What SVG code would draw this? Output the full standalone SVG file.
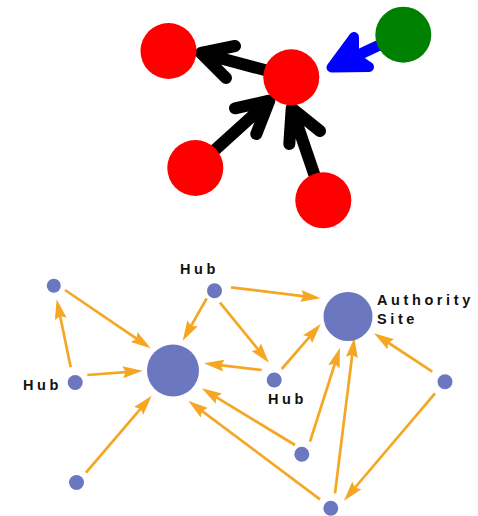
<svg xmlns="http://www.w3.org/2000/svg" width="478" height="516" viewBox="0 0 478 516">
  <style>
    .blk { stroke: #000; stroke-width: 12; stroke-linecap: round; stroke-linejoin: round; fill: none; }
    .red { fill: #ff0000; }
    .link { stroke: #f5a623; stroke-width: 2.7; fill: none; marker-end: url(#ah); }
    .site { fill: #6b77bf; }
    .lbl { font-family: "Liberation Sans", Arial, sans-serif; font-weight: bold; font-size: 14.5px; letter-spacing: 3.6px; fill: #111; }
  </style>
  <defs>
    <marker id="ah" markerUnits="userSpaceOnUse" markerWidth="24" markerHeight="16" viewBox="0 -8 24 16" refX="6" refY="0" orient="auto">
      <path d="M0,-6 L20,0 L0,6 L3,0 Z" fill="#f5a623"/>
    </marker>
  </defs>
  <rect width="478" height="516" fill="#fff"/>

  <!-- small link graph: thick arrows -->
  <g id="top-connectors">
    <path class="blk" d="M291,77 L201,53 M235,46 L201,53 L226,78"/>
    <path class="blk" d="M195,168 L269.3,100.7 M235,108.3 L269.3,100.7 L256.3,134"/>
    <path class="blk" d="M323,200 L291.7,108.3 M320,131 L291.7,108.3 L289.3,144"/>
    <path d="M403,34 L354,57" stroke="#0000ff" stroke-width="11" fill="none"/>
    <path d="M331.5,67.5 L354,37 L354,57 L369,67 Z" fill="#0000ff" stroke="#0000ff" stroke-width="10" stroke-linejoin="round"/>
  </g>
  <g id="page-left"><circle class="red" cx="168.5" cy="51" r="28"/></g>
  <g id="page-center"><circle class="red" cx="291.3" cy="77.3" r="28"/></g>
  <g id="page-lower-left"><circle class="red" cx="195.3" cy="168" r="28"/></g>
  <g id="page-lower-right"><circle class="red" cx="323.3" cy="200.3" r="28"/></g>
  <g id="page-green"><circle cx="403.3" cy="34.7" r="28" fill="#008000"/></g>

  <!-- hubs and authorities -->
  <g id="links">
    <line class="link" x1="65" y1="290" x2="139.1" y2="340.4"/>
    <line class="link" x1="70.7" y1="367.3" x2="59.5" y2="313"/>
    <line class="link" x1="87.3" y1="375" x2="128.7" y2="371.8"/>
    <line class="link" x1="86" y1="472.7" x2="142.6" y2="406.4"/>
    <line class="link" x1="206.7" y1="298.3" x2="189.6" y2="328.5"/>
    <line class="link" x1="231" y1="287.3" x2="306.8" y2="296.6"/>
    <line class="link" x1="220" y1="302.7" x2="260.1" y2="351.9"/>
    <line class="link" x1="261.7" y1="370" x2="217.9" y2="364.9"/>
    <line class="link" x1="281.7" y1="369" x2="311.5" y2="334.6"/>
    <line class="link" x1="295" y1="445" x2="213.7" y2="395.6"/>
    <line class="link" x1="310" y1="441.7" x2="335.7" y2="361"/>
    <line class="link" x1="320" y1="499.3" x2="199.5" y2="409.1"/>
    <line class="link" x1="335" y1="493.3" x2="352.6" y2="351.6"/>
    <line class="link" x1="432.3" y1="371.7" x2="385.7" y2="341"/>
    <line class="link" x1="435" y1="393.3" x2="353" y2="490"/>
  </g>

  <g id="node-a"><circle class="site" cx="53.8" cy="285.8" r="7"/></g>
  <g id="hub-left">
    <circle class="site" cx="75.2" cy="382.5" r="7.5"/>
    <text class="lbl" x="23" y="390">Hub</text>
  </g>
  <g id="node-bl"><circle class="site" cx="76.5" cy="482.5" r="7.5"/></g>
  <g id="node-big"><circle class="site" cx="173" cy="370.5" r="26"/></g>
  <g id="hub-top">
    <circle class="site" cx="214.5" cy="290.8" r="7.5"/>
    <text class="lbl" x="180" y="274">Hub</text>
  </g>
  <g id="authority">
    <circle class="site" cx="348" cy="316.5" r="24.5"/>
    <text class="lbl" x="377" y="304.5">Authority</text>
    <text class="lbl" x="377" y="323.5">Site</text>
  </g>
  <g id="hub-mid">
    <circle class="site" cx="274.2" cy="380" r="7.5"/>
    <text class="lbl" x="268" y="404">Hub</text>
  </g>
  <g id="node-r"><circle class="site" cx="445" cy="381.7" r="7.5"/></g>
  <g id="node-lm"><circle class="site" cx="301.8" cy="454.2" r="7.5"/></g>
  <g id="node-b"><circle class="site" cx="330.8" cy="508.3" r="7.5"/></g>
</svg>
